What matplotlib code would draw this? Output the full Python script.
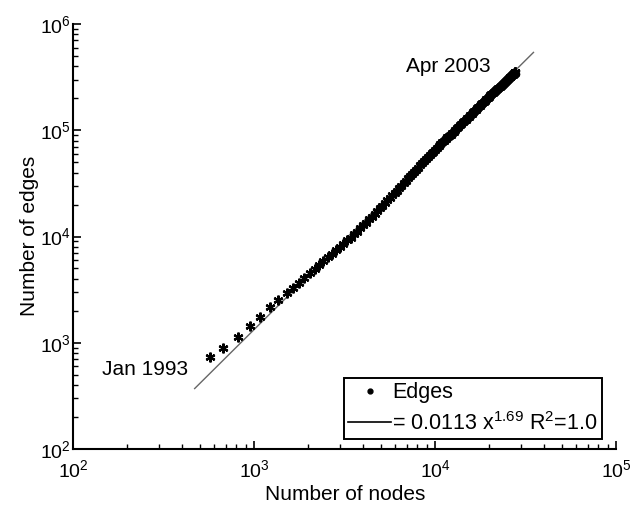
import matplotlib
matplotlib.use("Agg")
import matplotlib.pyplot as plt
from matplotlib.lines import Line2D
import numpy as np

plt.rcParams['font.family'] = ['Liberation Sans', 'DejaVu Sans']
plt.rcParams['mathtext.fontset'] = 'custom'
plt.rcParams['mathtext.rm'] = 'Liberation Sans'
plt.rcParams['mathtext.it'] = 'Liberation Sans:italic'
plt.rcParams['mathtext.bf'] = 'Liberation Sans:bold'

# ---- data (monthly snapshots, Jan 1993 - Apr 2003) ----
nodes = [571, 675, 816, 951, 1079, 1225, 1358, 1522, 1641, 1770, 1900, 2030,
         2160, 2290, 2420, 2560, 2700, 2840, 2980, 3120, 3270, 3420, 3570, 3720,
         3870, 4020, 4170, 4320, 4480, 4640, 4800, 4960, 5120, 5290, 5460, 5630,
         5800, 5980, 6160, 6340, 6520, 6710, 6900, 7090, 7280, 7480, 7680, 7880,
         8080, 8290, 8500, 8710, 8920, 9140, 9360, 9580, 9800, 10030, 10260, 10490,
         10720, 10960, 11200, 11440, 11680, 11930, 12180, 12430, 12680, 12940, 13200, 13460,
         13720, 13990, 14260, 14530, 14800, 15080, 15360, 15640, 15920, 16210, 16500, 16790,
         17080, 17380, 17680, 17980, 18280, 18590, 18900, 19210, 19520, 19840, 20160, 20480,
         20800, 21120, 21440, 21760, 22080, 22400, 22720, 23040, 23360, 23680, 24000, 24320,
         24630, 24940, 25240, 25530, 25810, 26080, 26340, 26580, 26810, 27020, 27210, 27380,
         27520, 27630, 27710, 27770]
edges = [738, 897, 1140, 1445, 1758, 2188, 2546, 2965, 3305, 3690, 4110, 4520,
         4930, 5380, 5850, 6350, 6870, 7400, 7930, 8470, 9180, 9770, 10520, 11140,
         11910, 12700, 13520, 14520, 15280, 16370, 17340, 18540, 19360, 20700, 21830, 22960,
         24430, 25760, 27040, 28770, 30130, 31620, 33570, 35160, 36730, 38900, 40640, 42460,
         44360, 46770, 48870, 50930, 53580, 55850, 58080, 60530, 62810, 65310, 67920, 70470,
         73960, 76740, 79620, 82600, 85500, 88510, 90780, 93970, 97050, 100500, 103900, 107400,
         110900, 114600, 118300, 122200, 126200, 130300, 134300, 138400, 142600, 147200, 151700, 156000,
         160700, 165600, 170200, 175400, 180300, 185400, 190500, 195900, 201400, 207000, 212800, 218300,
         223400, 228600, 233900, 239300, 244900, 250600, 256400, 262400, 267900, 274200, 279900, 285800,
         291700, 297900, 303400, 309000, 314100, 319900, 324300, 329600, 333400, 338100, 342000, 344400,
         347500, 349900, 351600, 352807]

fit_coef = 0.0113
fit_exp = 1.69
fit_range = [470, 35000]

start_label = "Jan 1993"
end_label = "Apr 2003"

fig = plt.figure(figsize=(6.3, 5.05), dpi=100)
ax = fig.add_axes([73/630, 1-449/505, 543/630, 425/505])

fx = np.array(fit_range, dtype=float)
ax.plot(fx, fit_coef * fx ** fit_exp, color='0.4', lw=1.0, zorder=2)
ax.plot(nodes, edges, linestyle='none', marker=(6, 2, 0), ms=7, mew=1.6,
        color='black', zorder=3)

ax.set_xscale('log')
ax.set_yscale('log')
ax.set_xlim(1e2, 1e5)
ax.set_ylim(1e2, 1e6)

for s in ['top', 'right']:
    ax.spines[s].set_visible(False)
for s in ['left', 'bottom']:
    ax.spines[s].set_linewidth(1.5)

ax.tick_params(which='major', direction='in', length=6, width=1.2, labelsize=14)
ax.tick_params(which='minor', direction='in', length=3.5, width=1.0)
ax.tick_params(axis='x', which='major', pad=7)
ax.tick_params(axis='y', which='major', pad=1.5)

fig.text(345/630, 1-500/505, "Number of nodes", ha='center', va='baseline', fontsize=15)
fig.text(35/630, 1-236/505, "Number of edges", ha='center', va='baseline', fontsize=15,
         rotation=90, rotation_mode='anchor')

ax.text((102-73)/543, (449-375)/425, start_label, transform=ax.transAxes,
        ha='left', va='baseline', fontsize=15)
ax.text((406-73)/543, (449-72)/425, end_label, transform=ax.transAxes,
        ha='left', va='baseline', fontsize=15)

handles = [Line2D([], [], linestyle='none', marker='.', ms=7, color='black'),
           Line2D([], [], color='black', lw=1.2)]
labels = ["Edges", r"= 0.0113 x$^{1.69}$ R$^2$=1.0"]
leg = ax.legend(handles, labels, loc='lower right',
                bbox_to_anchor=((602-73)/543, (449-439)/425),
                borderaxespad=0, fontsize=15.5, frameon=True, fancybox=False,
                edgecolor='black', framealpha=1, borderpad=0.2,
                handlelength=2.0, handletextpad=0.05, labelspacing=0.4)
leg.get_frame().set_linewidth(1.4)

fig.savefig("out.png", dpi=100)
